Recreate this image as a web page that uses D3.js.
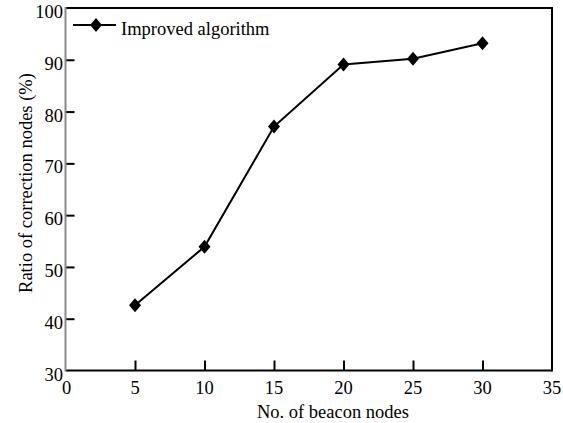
<!DOCTYPE html>
<html><head><meta charset="utf-8">
<script src="https://cdn.jsdelivr.net/npm/d3@7"></script>
<style>
html,body{margin:0;padding:0;background:#fff;}
svg{display:block;}
text{font-family:"Liberation Serif","Times New Roman",serif;fill:#000;}
</style></head>
<body>
<svg id="chart" width="563" height="423"></svg>
<script>
const beaconNodes = [5, 10, 15, 20, 25, 30];
const ratioImproved = [42.6, 53.9, 77.1, 89.1, 90.2, 93.2];
const xTicks = [0, 5, 10, 15, 20, 25, 30, 35];
const yTicks = [30, 40, 50, 60, 70, 80, 90, 100];
const seriesName = "Improved algorithm";
const xTitle = "No. of beacon nodes";
const yTitle = "Ratio of correction nodes (%)";

const svg = d3.select("#chart");
const L = 65.5, R = 552, T = 8, B = 370.5;
const x = d3.scaleLinear().domain([0, 35]).range([L, R]);
const y = d3.scaleLinear().domain([30, 100]).range([B, T]);
const fs = 18.5;

// inner tick marks
const xAxis = d3.axisBottom(x).tickValues(xTicks.filter(d => d > 0 && d < 35)).tickSizeInner(-10).tickSizeOuter(0).tickFormat("");
const gx = svg.append("g").attr("transform", `translate(0,${B})`).call(xAxis);
gx.select(".domain").remove();
gx.selectAll(".tick line").attr("stroke", "#000").attr("stroke-width", 2);

const yAxis = d3.axisLeft(y).tickValues(yTicks.filter(d => d > 30 && d < 100)).tickSizeInner(-9).tickSizeOuter(0).tickFormat("");
const gy = svg.append("g").attr("transform", `translate(${L},0)`).call(yAxis);
gy.select(".domain").remove();
gy.selectAll(".tick line").attr("stroke", "#000").attr("stroke-width", 2);

// frame
svg.append("line").attr("x1", L).attr("x2", R + 1).attr("y1", T).attr("y2", T).attr("stroke", "#000").attr("stroke-width", 2);
svg.append("line").attr("x1", R).attr("x2", R).attr("y1", T).attr("y2", B + 1).attr("stroke", "#000").attr("stroke-width", 2);
svg.append("line").attr("x1", L).attr("x2", R).attr("y1", B).attr("y2", B).attr("stroke", "#000").attr("stroke-width", 2.2);
svg.append("line").attr("x1", L).attr("x2", L).attr("y1", T - 1).attr("y2", B + 1).attr("stroke", "#8a8a8a").attr("stroke-width", 2);

// tick labels
svg.append("g").selectAll("text").data(xTicks).join("text")
  .attr("x", d => x(d) + (d === 0 ? 1 : 0)).attr("y", 394).attr("text-anchor", "middle")
  .attr("font-size", fs).text(d => d);
svg.append("g").selectAll("text").data(yTicks).join("text")
  .attr("x", 63).attr("y", d => y(d) + 10).attr("text-anchor", "end")
  .attr("font-size", fs).text(d => d);

// titles
svg.append("text").attr("x", 333).attr("y", 418).attr("text-anchor", "middle").attr("font-size", fs).text(xTitle);
svg.append("text").attr("transform", "translate(32,183) rotate(-90)").attr("text-anchor", "middle").attr("font-size", fs).text(yTitle);

// line + markers
const diamond = "M0,-7L6,0L0,7L-6,0Z";
const data = beaconNodes.map((b, i) => ({x: b, y: ratioImproved[i]}));
svg.append("path").datum(data)
  .attr("d", d3.line().x(d => x(d.x)).y(d => y(d.y)))
  .attr("fill", "none").attr("stroke", "#000").attr("stroke-width", 2);
svg.append("g").selectAll("path").data(data).join("path")
  .attr("transform", d => `translate(${x(d.x)},${y(d.y)})`)
  .attr("d", diamond).attr("fill", "#000");

// legend
const lg = svg.append("g");
lg.append("line").attr("x1", 73).attr("x2", 116).attr("y1", 25).attr("y2", 25).attr("stroke", "#000").attr("stroke-width", 2);
lg.append("path").attr("transform", "translate(96,25)").attr("d", diamond).attr("fill", "#000");
lg.append("text").attr("x", 121).attr("y", 35).attr("font-size", fs).text(seriesName);
</script>
</body></html>
